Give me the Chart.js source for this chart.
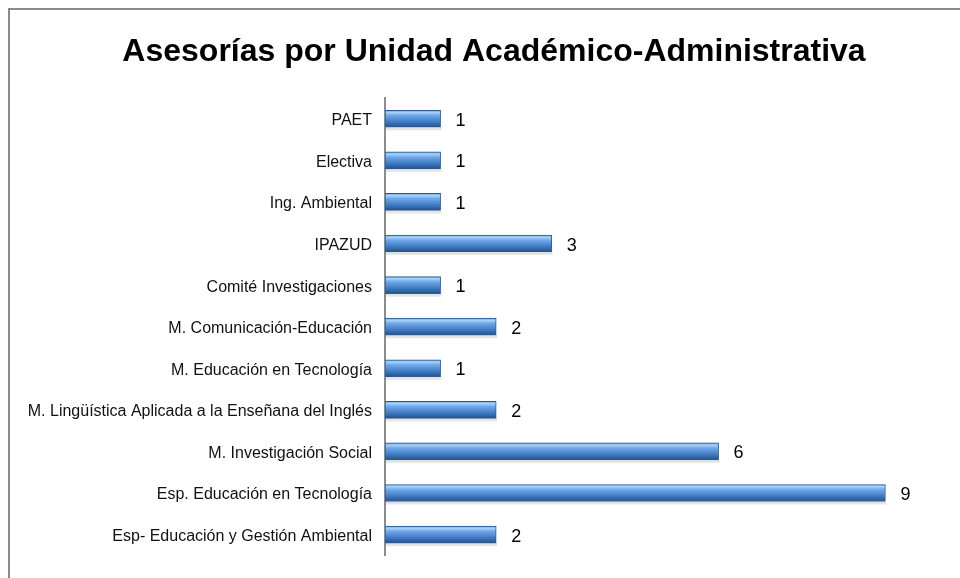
<!DOCTYPE html>
<html>
<head>
<meta charset="utf-8">
<script src="https://cdn.jsdelivr.net/npm/chart.js@4"></script>
<style>
  html, body { margin: 0; padding: 0; background: #fff; }
  #wrap { position: relative; width: 960px; height: 578px; }
</style>
</head>
<body>
<div id="wrap"><canvas id="chart" width="960" height="578"></canvas></div>
<script>
// data (top to bottom)
const units = [
    'PAET',
    'Electiva',
    'Ing. Ambiental',
    'IPAZUD',
    'Comité Investigaciones',
    'M. Comunicación-Educación',
    'M. Educación en Tecnología',
    'M. Lingüística Aplicada a la Enseñana del Inglés',
    'M. Investigación Social',
    'Esp. Educación en Tecnología',
    'Esp- Educación y Gestión Ambiental'
];
const asesorias = [1, 1, 1, 3, 1, 2, 1, 2, 6, 9, 2];
const axisMax = 10;
const chartTitle = 'Asesorías por Unidad Académico-Administrativa';

const FONT = '"Liberation Sans", Arial, sans-serif';

// frame of the original picture (only top + left edges are visible) and the title,
// which sits a bit right of the canvas centre in the original
const framePlugin = {
    id: 'frame',
    beforeDraw(chart) {
        const c = chart.ctx;
        c.save();
        c.strokeStyle = '#8a8a8a';
        c.lineWidth = 2;
        c.beginPath();
        c.moveTo(9, chart.height);
        c.lineTo(9, 9);
        c.lineTo(chart.width, 9);
        c.stroke();

        c.font = 'bold 32px ' + FONT;
        c.fillStyle = '#000';
        c.textAlign = 'center';
        c.textBaseline = 'middle';
        c.fillText(chartTitle, 494, 52);
        c.restore();
    }
};

// glossy blue bars + a soft shadow
const glossPlugin = {
    id: 'gloss',
    beforeDatasetDraw(chart, args) {
        const c = chart.ctx;
        args.meta.data.forEach(bar => {
            const top = bar.y - bar.height / 2;
            const bottom = bar.y + bar.height / 2;
            const g = c.createLinearGradient(0, top, 0, bottom);
            g.addColorStop(0, '#5d97da');
            g.addColorStop(0.12, '#a9d3fb');
            g.addColorStop(0.3, '#6fa9ea');
            g.addColorStop(0.65, '#437fc8');
            g.addColorStop(1, '#254f88');
            // options are shared between bars, give each its own copy
            bar.options = Object.assign({}, bar.options, { backgroundColor: g });
            // shadow under the bar
            c.save();
            c.fillStyle = 'rgba(0,0,0,0.10)';
            c.fillRect(bar.base + 1, bottom, bar.x - bar.base, 3);
            c.restore();
        });
    }
};

const valueLabels = {
    id: 'valueLabels',
    afterDatasetsDraw(chart) {
        const c = chart.ctx;
        const meta = chart.getDatasetMeta(0);
        c.save();
        c.font = '18px ' + FONT;
        c.fillStyle = '#000';
        c.textAlign = 'left';
        c.textBaseline = 'middle';
        meta.data.forEach((bar, i) => {
            c.fillText(asesorias[i], bar.x + 15, bar.y + 2);
        });
        c.restore();
    }
};

new Chart(document.getElementById('chart'), {
    type: 'bar',
    data: {
        labels: units,
        datasets: [{
            data: asesorias,
            borderColor: '#2b5a94',
            borderWidth: 1,
            borderSkipped: false,
            barThickness: 17
        }]
    },
    options: {
        indexAxis: 'y',
        responsive: false,
        animation: false,
        layout: { padding: { left: 0, right: 19, top: 98, bottom: 21 } },
        plugins: {
            legend: { display: false },
            tooltip: { enabled: false },
            title: { display: false }
        },
        scales: {
            x: {
                display: false,
                min: 0,
                max: axisMax
            },
            y: {
                grid: { display: false, drawTicks: false },
                border: { display: true, color: '#8c8c8c', width: 2 },
                ticks: {
                    color: '#111',
                    font: { family: FONT, size: 16 },
                    padding: 13,
                    labelOffset: 2
                },
                afterFit(scale) { scale.width = 385; }
            }
        }
    },
    plugins: [framePlugin, glossPlugin, valueLabels]
});
</script>
</body>
</html>
